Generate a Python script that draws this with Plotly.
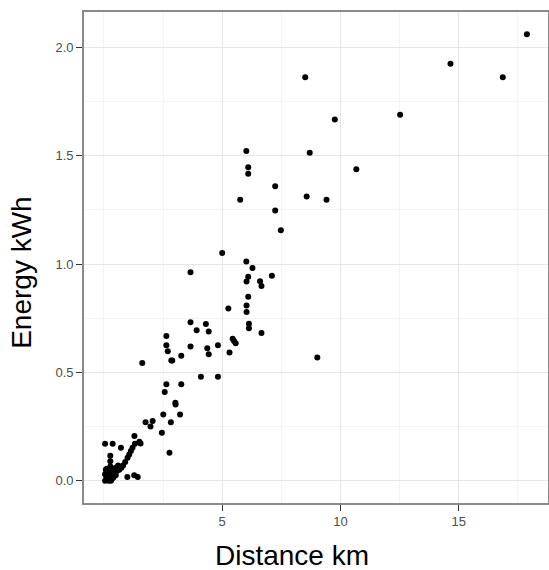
import plotly.graph_objects as go

distance_km = [
    17.88, 14.65, 16.86, 8.51, 12.52, 9.76, 6.02, 8.70, 10.67, 6.10,
    6.10, 7.24, 5.76, 8.57, 9.41, 7.24, 7.48, 5.00, 3.66, 6.02,
    6.28, 6.10, 6.03, 7.10, 6.60, 6.66, 6.10, 6.03, 6.03, 5.26,
    6.13, 6.13, 6.66, 9.02, 3.66, 4.31, 3.92, 4.43, 2.64, 2.64,
    2.70, 3.66, 4.37, 4.43, 4.82, 5.44, 5.50, 5.57, 5.31, 2.85,
    2.89, 3.27, 1.62, 4.10, 4.82, 2.64, 3.27, 2.57, 3.02, 3.03,
    2.51, 3.22, 2.83, 2.06, 1.76, 1.97, 2.45, 2.77, 1.29, 1.50,
    1.55, 1.31, 1.21, 1.14, 1.07, 1.00, 0.90, 0.81, 0.74, 0.72,
    0.05, 0.37, 0.27, 0.27, 0.27, 0.99, 1.28, 1.43,
    0.05, 0.10, 0.15, 0.20, 0.25, 0.30, 0.35, 0.40, 0.45, 0.50,
    0.55, 0.60, 0.05, 0.08, 0.12, 0.20, 0.30, 0.40, 0.50, 0.15,
    0.10, 0.35, 0.45, 0.25, 0.60, 0.65,
]
energy_kwh = [
    2.060, 1.924, 1.862, 1.862, 1.689, 1.667, 1.521, 1.513, 1.437, 1.446,
    1.416, 1.359, 1.296, 1.311, 1.296, 1.247, 1.156, 1.051, 0.962, 1.011,
    0.982, 0.941, 0.919, 0.946, 0.920, 0.898, 0.849, 0.808, 0.779, 0.795,
    0.724, 0.703, 0.681, 0.568, 0.731, 0.723, 0.694, 0.688, 0.668, 0.625,
    0.597, 0.619, 0.611, 0.583, 0.625, 0.655, 0.645, 0.634, 0.592, 0.555,
    0.555, 0.576, 0.543, 0.480, 0.480, 0.445, 0.445, 0.409, 0.360, 0.352,
    0.305, 0.305, 0.270, 0.276, 0.270, 0.250, 0.221, 0.129, 0.206, 0.180,
    0.172, 0.170, 0.152, 0.137, 0.121, 0.106, 0.086, 0.070, 0.060, 0.152,
    0.170, 0.170, 0.115, 0.090, 0.065, 0.017, 0.025, 0.017,
    0.000, 0.005, 0.010, 0.000, 0.020, 0.030, 0.010, 0.040, 0.050, 0.060,
    0.045, 0.055, 0.030, 0.050, 0.055, 0.045, 0.000, 0.015, 0.025, 0.035,
    0.020, 0.055, 0.030, 0.005, 0.070, 0.050,
]

x_major = [5, 10, 15]
x_minor = [0, 2.5, 7.5, 12.5, 17.5]
y_major = [0, 0.5, 1.0, 1.5, 2.0]
y_labels = ["0.0", "0.5", "1.0", "1.5", "2.0"]
y_minor = [0.25, 0.75, 1.25, 1.75]
x_title = "Distance km"
y_title = "Energy kWh"

xmin, xmax = min(distance_km), max(distance_km)
ymin, ymax = min(energy_kwh), max(energy_kwh)
xpad = (xmax - xmin) * 0.05
ypad = (ymax - ymin) * 0.05

fig = go.Figure(
    go.Scatter(
        x=distance_km, y=energy_kwh, mode="markers",
        marker=dict(color="black", size=6, line=dict(width=0)),
        showlegend=False,
    )
)

font_family = "Liberation Sans, Arial, sans-serif"
axis_common = dict(
    showline=True, mirror=True, linecolor="#8a8a8a", linewidth=1.6,
    ticks="outside", ticklen=6, tickwidth=1, tickcolor="#333333",
    tickfont=dict(family=font_family, size=13, color="#4d4d4d"),
    showgrid=True, gridcolor="#e5e5e5", gridwidth=1,
    zeroline=False,
)

fig.update_layout(
    width=549, height=570,
    margin=dict(l=84, r=1, t=12, b=67, autoexpand=False),
    paper_bgcolor="white", plot_bgcolor="white",
    font=dict(family=font_family),
    xaxis=dict(
        **axis_common,
        range=[xmin - xpad, xmax + xpad],
        tickmode="array", tickvals=x_major, ticktext=[str(v) for v in x_major],
        minor=dict(tickmode="array", tickvals=x_minor, showgrid=True,
                   gridcolor="#f4f4f4", ticks=""),
    ),
    yaxis=dict(
        **axis_common,
        range=[ymin - ypad, ymax + ypad],
        tickmode="array", tickvals=y_major, ticktext=y_labels,
        minor=dict(tickmode="array", tickvals=y_minor, showgrid=True,
                   gridcolor="#f4f4f4", ticks=""),
    ),
    annotations=[
        dict(text=x_title, xref="paper", yref="paper", x=0.449, y=-0.106,
             xanchor="center", yanchor="middle", showarrow=False,
             font=dict(family=font_family, size=28, color="black")),
        dict(text=y_title, xref="paper", yref="paper", x=-0.134, y=0.4705,
             xanchor="center", yanchor="middle", showarrow=False, textangle=-90,
             font=dict(family=font_family, size=28, color="black")),
    ],
)

fig.write_html("out.html", config={"displayModeBar": False},
               post_script="document.body.style.margin='0';")
